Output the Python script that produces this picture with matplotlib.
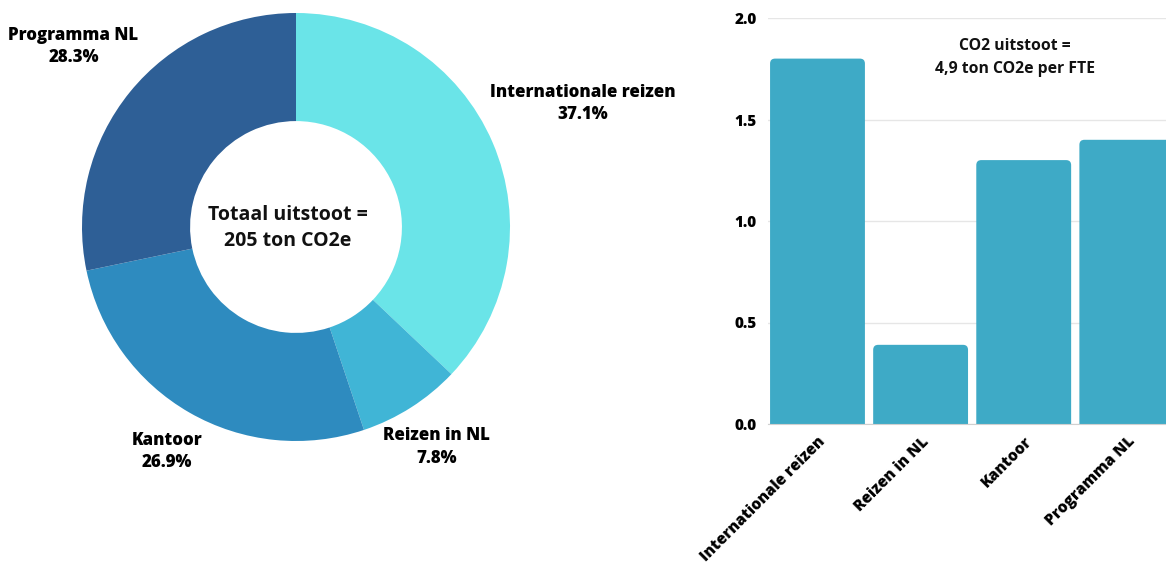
import matplotlib
matplotlib.use("Agg")
import matplotlib.pyplot as plt
from matplotlib.patches import FancyBboxPatch
import numpy as np

plt.rcParams['font.family'] = ['Open Sans', 'DejaVu Sans']

# Data
categories = ["Internationale reizen", "Reizen in NL", "Kantoor", "Programma NL"]
shares = [37.1, 7.8, 26.9, 28.3]
per_fte = [1.8, 0.39, 1.3, 1.4]
yticks = [0.0, 0.5, 1.0, 1.5, 2.0]

pie_colors = ["#6AE4E8", "#40B5D6", "#2E8BBF", "#2E5F96"]
label_dist = [1.46, 1.22, 1.21, 1.34]
bar_color = "#3EAAC6"

W, H = 1166, 565
fig = plt.figure(figsize=(W / 100, H / 100), dpi=100)

# Donut
cx, cy, r = 296, 227, 214
ax1 = fig.add_axes([(cx - r) / W, (H - cy - r) / H, 2 * r / W, 2 * r / H])
wedges, _ = ax1.pie(shares, colors=pie_colors, startangle=90, counterclock=False,
                    radius=1, wedgeprops=dict(width=0.505, edgecolor='none'))
ax1.set_xlim(-1, 1)
ax1.set_ylim(-1, 1)
ax1.set_aspect('equal')
ax1.axis('off')
for w, name, pct, d in zip(wedges, categories, shares, label_dist):
    ang = np.deg2rad((w.theta1 + w.theta2) / 2)
    ax1.text(d * np.cos(ang), d * np.sin(ang), f"{name}\n{pct:.1f}%",
             ha='center', va='center', fontsize=12.2, fontweight='heavy',
             color='black', linespacing=1.4)
ax1.text(-0.04, -0.005, "Totaal uitstoot =\n205 ton CO2e", ha='center', va='center',
         fontsize=14, fontweight='bold', color='#111111', linespacing=1.45)

# Bar chart
x0, x1 = 768, 1166
y0, y1 = 424, 18
ax2 = fig.add_axes([x0 / W, (H - y0) / H, (x1 - x0) / W, (y0 - y1) / H])
xs = np.arange(len(categories))
xlim = (-0.48, 3.38)
ylim = (0, 2.0)
bars = ax2.bar(xs, per_fte, width=0.92, color=bar_color, zorder=3)
# rounded top corners
xu = (xlim[1] - xlim[0]) / (x1 - x0)
yu = (ylim[1] - ylim[0]) / (y0 - y1)
rs = 5 * xu
for b in bars:
    bx, by, bw, bh = b.get_x(), b.get_y(), b.get_width(), b.get_height()
    b.set_visible(False)
    ext = 6 * yu
    p = FancyBboxPatch((bx, by - ext), bw, bh + ext,
                       boxstyle=f"round,pad=0,rounding_size={rs}",
                       mutation_aspect=yu / xu, facecolor=bar_color,
                       edgecolor='none', zorder=3)
    ax2.add_patch(p)
ax2.set_xlim(*xlim)
ax2.set_ylim(*ylim)
ax2.set_yticks(yticks)
ax2.set_yticklabels([f"{v:.1f}" for v in yticks], fontsize=11, fontweight='heavy')
ax2.set_xticks(xs)
ax2.set_xticklabels(categories, rotation=45, ha='right', rotation_mode='anchor',
                    fontsize=11.2, fontweight='heavy')
ax2.tick_params(axis='y', length=0, pad=8)
ax2.tick_params(axis='x', length=0, pad=7)
for s in ['top', 'right', 'left']:
    ax2.spines[s].set_visible(False)
ax2.spines['bottom'].set_color('#D0D0D0')
ax2.spines['bottom'].set_zorder(4)
ax2.grid(axis='y', color='#E6E6E6', linewidth=1, zorder=0)
ax2.set_axisbelow(True)
ax2.text(0.62, 0.95, "CO2 uitstoot =\n4,9 ton CO2e per FTE", transform=ax2.transAxes,
         ha='center', va='top', fontsize=11.3, fontweight='bold', color='#111111',
         linespacing=1.55)

fig.savefig("out.png", dpi=100, facecolor='white')
